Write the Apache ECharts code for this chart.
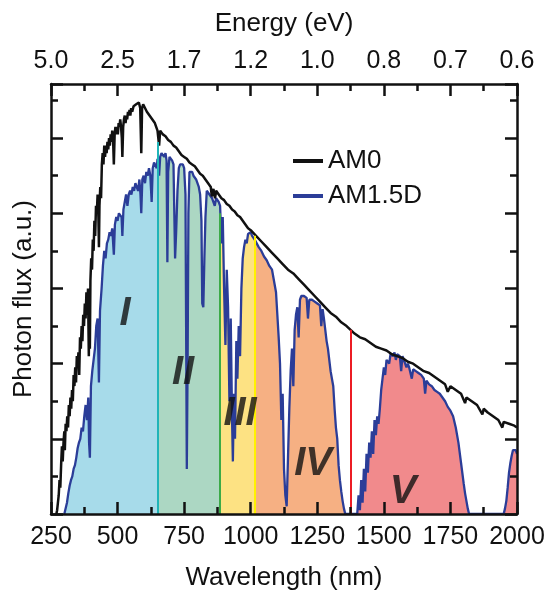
<!DOCTYPE html>
<html>
<head>
<meta charset="utf-8">
<script src="https://cdn.jsdelivr.net/npm/echarts@6/dist/echarts.min.js"></script>
<style>html,body{margin:0;padding:0;background:#fff;}#chart{width:545px;height:593px;}</style>
</head>
<body>
<div id="chart"></div>
<script>
// ---- data ----
const energyLabels = ['5.0','2.5','1.7','1.2','1.0','0.8','0.7','0.6'];

const am0Wl = [270,273,276,279,282,285,288,291,294,297,300,302,305,308,311,314,317,320,323,326,329,332,335,338,341,344,347,350,353,356,359,362,365,368,371,374,377,380,383,386,389,392,394,396,398,401,404,407,410,413,416,419,422,425,428,430,432,435,438,441,444,447,450,453,456,459,462,465,468,471,474,477,480,483,486,489,492,495,498,501,504,507,510,513,516,518,521,524,527,530,533,536,539,542,545,548,551,555,560,565,570,575,580,585,589,592,596,600,610,620,630,640,650,656,660,670,680,690,700,710,720,730,740,750,760,770,780,790,800,810,820,830,840,850,854,860,866,870,880,890,900,910,920,930,940,950,960,970,980,990,1000,1020,1040,1060,1080,1100,1120,1140,1160,1180,1200,1220,1240,1260,1280,1300,1320,1340,1360,1375,1390,1410,1430,1450,1470,1490,1510,1530,1550,1570,1590,1610,1630,1650,1670,1690,1710,1730,1740,1750,1770,1790,1805,1810,1830,1850,1870,1875,1890,1910,1930,1945,1950,1970,1990,2000];
const am0Flux = [0,0.1,0.3,0.5,0.9,0.7,1.3,1.8,1.4,1.9,2.2,1.7,2.4,2.2,2.6,2.3,2.9,2.6,3.1,2.8,3.3,3.0,3.7,3.4,3.9,3.5,4.2,3.9,4.3,3.7,4.7,4.4,5.0,4.6,5.3,5.0,5.6,5.2,5.9,5.3,6.0,4.2,5.6,4.4,6.2,6.8,6.5,7.3,7.0,7.8,7.4,8.2,8.0,8.5,7.9,7.1,8.2,8.7,8.4,9.3,9.6,9.3,9.8,9.5,9.8,9.6,9.9,9.7,10.0,9.8,10.1,9.9,10.2,10.0,9.3,10.1,10.3,10.1,10.3,10.1,10.4,10.3,10.5,10.3,10.0,9.5,10.3,10.5,10.6,10.4,10.6,10.5,10.7,10.6,10.75,10.6,10.8,10.7,10.85,10.8,10.9,10.85,10.95,10.8,9.6,10.8,10.9,10.85,10.7,10.6,10.5,10.4,10.2,9.8,10.2,10.1,10.05,9.95,9.9,9.8,9.75,9.65,9.55,9.5,9.45,9.35,9.3,9.25,9.15,9.05,9.0,8.9,8.8,8.7,8.45,8.65,8.4,8.6,8.5,8.4,8.35,8.25,8.2,8.1,8.05,7.95,7.9,7.8,7.7,7.6,7.55,7.4,7.25,7.1,6.95,6.8,6.65,6.5,6.4,6.25,6.1,5.95,5.8,5.65,5.5,5.35,5.25,5.1,5.0,4.9,4.8,4.7,4.65,4.55,4.45,4.4,4.35,4.25,4.2,4.15,4.05,4.0,3.9,3.8,3.75,3.65,3.55,3.45,3.25,3.4,3.3,3.2,2.95,3.1,3.0,2.9,2.65,2.8,2.7,2.6,2.5,2.3,2.45,2.4,2.35,2.3];

const am15Wl = [300,305,310,315,320,325,330,335,340,345,350,355,360,365,370,375,380,385,390,393,396,400,405,410,415,420,425,430,434,440,445,450,455,460,465,470,475,480,486,490,495,500,505,510,515,518,522,527,532,537,542,547,552,557,562,567,572,577,582,586,589,593,598,603,608,613,618,623,628,632,637,642,647,650,656,660,665,670,675,680,684,687,690,695,700,705,710,716,720,725,730,735,740,745,750,755,760,763,766,770,775,780,785,790,795,800,805,810,815,818,822,826,830,835,840,845,850,855,860,865,870,875,880,885,890,895,900,905,910,915,920,925,930,933,937,941,946,950,955,960,965,970,975,980,985,990,995,1000,1005,1010,1015,1020,1030,1040,1050,1060,1070,1080,1090,1095,1100,1105,1110,1115,1120,1125,1130,1135,1140,1145,1150,1155,1160,1165,1170,1175,1180,1185,1190,1195,1200,1210,1215,1220,1230,1240,1250,1260,1265,1270,1275,1280,1285,1290,1295,1300,1305,1310,1315,1320,1325,1330,1335,1340,1345,1350,1355,1400,1405,1410,1415,1420,1425,1430,1435,1440,1445,1450,1455,1460,1465,1470,1475,1480,1485,1490,1495,1500,1505,1510,1515,1520,1525,1530,1535,1540,1545,1550,1555,1560,1565,1570,1575,1580,1585,1590,1595,1600,1605,1610,1620,1630,1640,1650,1655,1660,1670,1680,1690,1700,1710,1720,1730,1740,1750,1760,1770,1780,1790,1800,1805,1810,1815,1820,1950,1955,1960,1965,1970,1975,1980,1985,1990,1995,2000];
const am15Flux = [0,0.05,0.3,0.55,0.75,0.9,1.0,1.2,1.3,1.5,1.75,1.9,2.0,2.3,2.2,2.6,2.9,2.5,3.1,1.9,1.5,3.4,3.8,4.1,4.4,5.0,5.2,3.5,5.4,6.0,6.6,7.0,6.8,7.2,7.3,7.5,7.4,7.6,6.9,7.7,7.9,7.8,8.0,8.0,7.9,7.4,8.1,8.3,8.5,8.2,8.5,8.6,8.5,8.7,8.6,8.8,8.85,8.6,8.9,8.5,8.0,8.9,9.0,8.8,9.1,9.0,9.2,9.0,8.3,9.2,9.35,9.4,9.2,9.45,9.0,9.5,9.6,9.55,9.5,9.6,9.4,6.7,9.1,9.5,9.45,9.4,9.3,6.8,7.5,8.6,9.2,9.3,9.35,9.3,9.2,8.5,1.2,4.0,8.0,9.1,9.15,9.1,9.0,9.0,8.9,8.85,8.7,8.5,7.8,5.6,5.5,6.8,7.9,8.6,8.6,8.5,8.5,8.4,8.45,8.2,8.4,8.35,8.3,8.2,7.2,7.9,6.0,4.5,6.5,5.5,3.0,5.2,2.5,1.4,3.2,2.0,4.6,3.6,5.0,4.2,6.0,6.8,7.1,7.3,7.2,7.45,7.5,7.5,7.4,7.35,7.3,7.25,7.1,7.0,6.85,6.75,6.6,6.5,6.1,5.9,5.3,4.7,4.0,2.5,3.2,1.2,0.5,0.2,1.5,2.8,3.8,4.4,3.4,4.9,5.3,5.5,4.7,5.7,5.8,5.85,5.8,5.75,5.2,5.7,5.7,5.65,5.6,5.55,5.0,5.45,5.2,4.9,4.6,4.4,4.1,3.8,3.6,3.4,2.8,2.3,2.0,1.3,0.9,0.6,0.35,0.15,0,0,0.5,0.1,0.9,0.3,1.2,0.6,1.6,1.1,1.9,1.5,2.2,1.6,2.5,2.1,2.6,2.4,2.8,3.3,3.6,3.9,3.7,4.1,4.15,4.0,4.25,4.3,4.2,4.3,4.1,4.25,4.3,4.2,3.8,4.2,4.1,4.05,3.9,4.0,3.9,3.95,3.6,3.85,3.8,3.75,3.7,3.6,3.2,3.55,3.45,3.4,3.3,3.25,3.2,3.1,3.0,2.85,2.75,2.6,2.3,1.9,1.35,0.8,0.55,0.35,0.15,0,0,0.15,0.35,0.7,1.1,1.35,1.55,1.7,1.75,1.7,1.6];

// spectral regions (sub-cell bands)
const regionEdges = [250, 650, 885, 1015, 1375, 2000];
const regionNames = ['I','II','III','IV','V'];
const regionLabelWl = [528, 746, 960, 1234, 1572];
const regionLabelFlux = [5.32, 3.75, 2.66, 1.33, 0.59];
const boundaryWl = [650, 885, 1015, 1375];
const boundaryTop = [9.9, 8.0, 7.4, 4.9];

// ---- style ----
const regionColors = ['#a7dbea','#acd7c3','#fde283','#f6b083','#f18a8c'];
const boundaryColors = ['#20b4b8','#3caa48','#fff200','#ec1c24'];
const FONT = 'Liberation Sans, Arial, sans-serif';
const YMAX = 11.44;

const chart = echarts.init(document.getElementById('chart'));

const am0Data = am0Wl.map((w, i) => [w, am0Flux[i]]);
const am15Data = am15Wl.map((w, i) => [w, am15Flux[i]]);

const pieces = regionColors.map((c, i) => (i === regionColors.length - 1)
  ? { gte: regionEdges[i], lte: regionEdges[i + 1], color: c }
  : { gte: regionEdges[i], lt: regionEdges[i + 1], color: c });

const axisLineStyle = { color: '#111', width: 2.5 };

function yAx(pos, interval, len, showLine, name) {
  return {
    type: 'value', position: pos, min: 0, max: YMAX, interval: interval, z: 10,
    name: name || '', nameLocation: 'middle', nameGap: 14,
    nameTextStyle: { fontFamily: FONT, fontSize: 26, color: '#111' },
    axisLine: { show: showLine, onZero: false, lineStyle: axisLineStyle },
    axisTick: { show: true, inside: true, length: len, lineStyle: { color: '#111', width: 2.5 } },
    axisLabel: { show: false },
    splitLine: { show: false }
  };
}

const option = {
  backgroundColor: '#fff',
  animation: false,
  grid: { left: 51, right: 28, top: 84, bottom: 79, containLabel: false, outerBoundsMode: 'none' },
  legend: {
    orient: 'vertical', left: 288, top: 143, itemGap: 9,
    itemWidth: 30, itemHeight: 4,
    data: [{ name: 'AM0', icon: 'rect' }, { name: 'AM1.5D', icon: 'rect' }],
    textStyle: { fontFamily: FONT, fontSize: 26, color: '#111' }
  },
  visualMap: [{
    type: 'piecewise', show: false, dimension: 0, seriesIndex: 0, pieces: pieces
  }],
  xAxis: [
    {
      type: 'value', position: 'bottom', min: 250, max: 2000, interval: 250, z: 10,
      name: 'Wavelength (nm)', nameLocation: 'middle', nameGap: 51,
      nameTextStyle: { fontFamily: FONT, fontSize: 26, color: '#111' },
      axisLine: { onZero: false, lineStyle: axisLineStyle },
      axisTick: { inside: true, length: 12, lineStyle: { color: '#111', width: 2.5 } },
      minorTick: { show: true, splitNumber: 2, length: 7, lineStyle: { color: '#111', width: 2.5 } },
      axisLabel: { margin: 11, fontFamily: FONT, fontSize: 25, color: '#111', formatter: v => String(v) },
      splitLine: { show: false }
    },
    {
      type: 'value', position: 'top', min: 250, max: 2000, interval: 250, z: 10,
      name: 'Energy (eV)', nameLocation: 'middle', nameGap: 47,
      nameTextStyle: { fontFamily: FONT, fontSize: 26, color: '#111' },
      axisLine: { onZero: false, lineStyle: axisLineStyle },
      axisTick: { inside: true, length: 12, lineStyle: { color: '#111', width: 2.5 } },
      minorTick: { show: true, splitNumber: 2, length: 7, lineStyle: { color: '#111', width: 2.5 } },
      axisLabel: {
        margin: 10, fontFamily: FONT, fontSize: 25, color: '#111',
        formatter: v => energyLabels[Math.round((v - 250) / 250)]
      },
      splitLine: { show: false }
    }
  ],
  yAxis: [
    yAx('left', 2, 12, true, 'Photon flux (a.u.)'),
    yAx('left', 1, 7, false),
    yAx('right', 2, 12, true),
    yAx('right', 1, 7, false)
  ],
  series: [
    {
      name: 'AM1.5D area', type: 'line', data: am15Data, showSymbol: false, symbol: 'none',
      lineStyle: { width: 0 }, areaStyle: { opacity: 1 }, z: 2, silent: true,
      markLine: {
        silent: true, symbol: 'none', label: { show: false },
        data: boundaryWl.map((w, i) => [
          { coord: [w, 0], lineStyle: { color: boundaryColors[i], width: 2, type: 'solid' } },
          { coord: [w, boundaryTop[i]] }
        ])
      }
    },
    {
      name: 'AM1.5D', type: 'line', data: am15Data, showSymbol: false, symbol: 'none',
      color: '#2b3d98', lineStyle: { color: '#2b3d98', width: 2.3 }, z: 3
    },
    {
      name: 'AM0', type: 'line', data: am0Data, showSymbol: false, symbol: 'none',
      color: '#111', lineStyle: { color: '#111', width: 2.5 }, z: 4
    },
    {
      name: 'labels', type: 'scatter', symbolSize: 0, z: 5, silent: true,
      data: regionNames.map((n, i) => ({ name: n, value: [regionLabelWl[i], regionLabelFlux[i]] })),
      label: {
        show: true, position: 'inside', formatter: p => p.name,
        fontFamily: FONT, fontSize: 40, fontWeight: 'bold', fontStyle: 'italic', color: '#111'
      }
    }
  ]
};
chart.setOption(option);
</script>
</body>
</html>
